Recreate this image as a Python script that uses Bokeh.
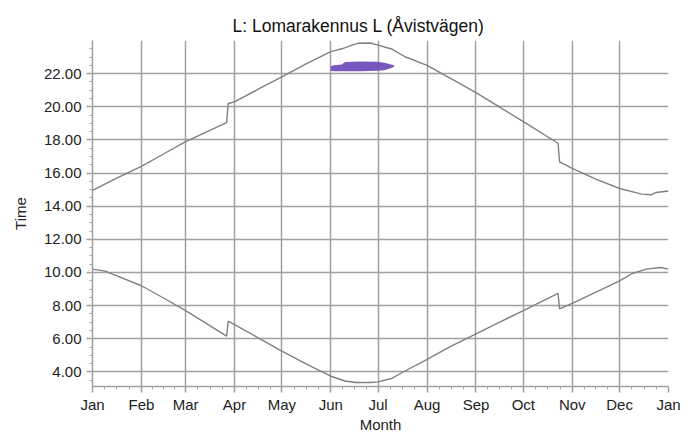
from bokeh.plotting import figure
from bokeh.models import FixedTicker, Range1d, PrintfTickFormatter, ColumnDataSource
from bokeh.embed import file_html
from bokeh.resources import INLINE

# ---- data ----
title_text = "L: Lomarakennus L (Åvistvägen)"
month_labels = ["Jan", "Feb", "Mar", "Apr", "May", "Jun", "Jul",
                "Aug", "Sep", "Oct", "Nov", "Dec", "Jan"]
month_days = [0, 31, 59, 90, 120, 151, 181, 212, 243, 273, 304, 334, 365]
y_ticks = [4, 6, 8, 10, 12, 14, 16, 18, 20, 22]

sunset_days = [0, 15, 31, 45, 59, 85, 86, 90, 105, 120, 135, 151, 158, 164,
               168, 176, 181, 190, 198, 212, 228, 243, 258, 273, 295, 296,
               304, 319, 334, 348, 354, 357, 365]
sunset_time = [14.95, 15.68, 16.4, 17.15, 17.9, 19.05, 20.2, 20.3, 21.06, 21.8,
               22.57, 23.33, 23.5, 23.71, 23.83, 23.85, 23.72, 23.47, 23.02,
               22.5, 21.66, 20.86, 19.98, 19.1, 17.8, 16.68, 16.28, 15.64,
               15.07, 14.73, 14.69, 14.83, 14.92]

sunrise_days = [0, 8, 31, 45, 59, 85, 86, 90, 105, 120, 135, 151, 160, 167,
                176, 181, 190, 196, 212, 227, 243, 258, 273, 295, 296, 304,
                319, 334, 342, 351, 360, 365]
sunrise_time = [10.2, 10.08, 9.2, 8.46, 7.7, 6.16, 7.06, 6.86, 6.06, 5.26,
                4.5, 3.74, 3.45, 3.36, 3.36, 3.4, 3.62, 3.95, 4.76, 5.54,
                6.3, 7.0, 7.7, 8.74, 7.8, 8.14, 8.82, 9.5, 9.94, 10.2, 10.3,
                10.2]

shadow_days = [151, 153, 158, 160, 170, 180, 185, 188, 191]
shadow_low = [22.17, 22.15, 22.15, 22.15, 22.15, 22.17, 22.2, 22.3, 22.4]
shadow_high = [22.45, 22.5, 22.55, 22.7, 22.73, 22.72, 22.65, 22.58, 22.5]

# ---- figure ----
FONT = "Liberation Sans"
GRID = "#a0a0a0"
TEXT = "#222222"

p = figure(width=699, height=435, output_backend="svg", toolbar_location=None,
           x_range=Range1d(0, 365), y_range=Range1d(3.12, 24.0),
           min_border_left=92, min_border_right=31, min_border_top=40,
           min_border_bottom=49)
p.outline_line_color = None
p.background_fill_color = "white"
p.border_fill_color = "white"

p.title.text = title_text
p.title.align = "left"
p.title.offset = 140
p.title.text_font = FONT
p.title.text_font_size = "17.5px"
p.title.text_font_style = "normal"
p.title.text_color = "#111111"

x_minor = []
for i in range(12):
    a, b = month_days[i], month_days[i + 1]
    for k in (1, 2, 3):
        x_minor.append(a + k * (b - a) / 4.0)
p.xaxis.ticker = FixedTicker(ticks=month_days, minor_ticks=x_minor)
p.xaxis.major_label_overrides = {d: lab for d, lab in zip(month_days, month_labels)}

y_minor = [v / 2.0 for v in range(7, 48) if (v / 2.0) not in y_ticks]
p.yaxis.ticker = FixedTicker(ticks=y_ticks, minor_ticks=y_minor)
p.yaxis.formatter = PrintfTickFormatter(format="%.2f")

p.xaxis.axis_label = "Month"
p.yaxis.axis_label = "Time"
for ax in (p.xaxis, p.yaxis):
    ax.axis_line_color = GRID
    ax.axis_line_width = 1.5
    ax.major_tick_line_color = GRID
    ax.minor_tick_line_color = GRID
    ax.major_tick_line_width = 1.5
    ax.minor_tick_line_width = 1
    ax.major_tick_out = 6
    ax.major_tick_in = 0
    ax.minor_tick_out = 3
    ax.minor_tick_in = 0
    ax.major_label_text_font = FONT
    ax.major_label_text_font_size = "15px"
    ax.major_label_text_color = TEXT
    ax.axis_label_text_font = FONT
    ax.axis_label_text_font_size = "15px"
    ax.axis_label_text_font_style = "normal"
    ax.axis_label_text_color = TEXT
p.xaxis.major_label_standoff = 3
p.xaxis.axis_label_standoff = 0
p.yaxis.major_label_standoff = 5
p.yaxis.axis_label_standoff = 12

p.xgrid.grid_line_color = GRID
p.xgrid.grid_line_width = 1.5
p.ygrid.grid_line_color = GRID
p.ygrid.grid_line_width = 1.5

p.line(sunset_days, sunset_time, line_color="#808080", line_width=1.4)
p.line(sunrise_days, sunrise_time, line_color="#808080", line_width=1.4)

src = ColumnDataSource(dict(x=shadow_days, lo=shadow_low, hi=shadow_high))
p.varea(x="x", y1="lo", y2="hi", source=src, fill_color="#7857bf")

open("out.html", "w").write(file_html(p, INLINE))
